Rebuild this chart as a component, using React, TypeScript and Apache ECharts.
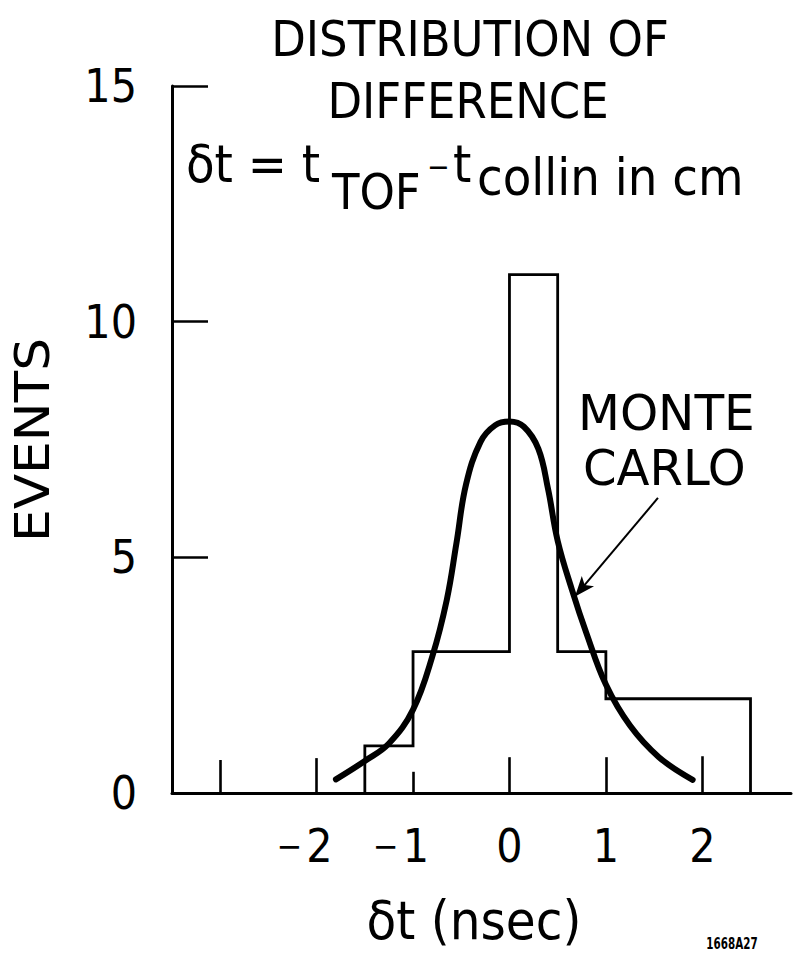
import React, { useEffect, useRef } from 'react';
import * as echarts from 'echarts';

// ---- data ----
const BIN_EDGES = [-1.5, -1, 0, 0.5, 1, 2.5];
const BIN_COUNTS = [1, 3, 11, 3, 2];

const MC_X = [-1.8, -1.5, -1.25, -1.0, -0.8, -0.65, -0.55, -0.45, -0.3, -0.15, 0, 0.15, 0.3, 0.4, 0.5, 0.65, 0.8, 1.0, 1.25, 1.55, 1.9];
const MC_Y = [0.29, 0.68, 1.05, 1.77, 2.9, 4.1, 5.3, 6.55, 7.45, 7.8, 7.88, 7.77, 7.3, 6.45, 5.35, 4.3, 3.38, 2.3, 1.43, 0.76, 0.28];

const X_TICKS = [-3, -2, -1, 0, 1, 2];
const X_LABELS = [-2, -1, 0, 1, 2];
const Y_TICK_LABELS = ['0', '5', '10', '15'];

const ARROW_FROM = [1.54, 6.26];
const ARROW_TO = [0.68, 4.17];

// ---- styling ----
const FONT = "'DejaVu Sans Condensed', 'Liberation Sans Narrow', 'DejaVu Sans', sans-serif";
const TICK_LEN: Record<string, number> = { '-3': 0.7, '-2': 0.74, '-1': 0.45, '0': 0.76, '1': 0.76, '2': 0.78 };

function buildOption() {
  const hist: number[][] = [[BIN_EDGES[0], 0]];
  BIN_COUNTS.forEach((c, i) => {
    hist.push([BIN_EDGES[i], c]);
    hist.push([BIN_EDGES[i + 1], c]);
  });
  hist.push([BIN_EDGES[BIN_EDGES.length - 1], 0]);

  const curve = MC_X.map((x, i) => [x, MC_Y[i]]);

  const text = (t: string, x: number, y: number, size: number, align: string = 'left', el: any = {}, st: any = {}) => ({
    type: 'text',
    x,
    y,
    silent: true,
    ...el,
    style: {
      text: t,
      fontSize: size,
      fontFamily: FONT,
      fill: '#000',
      align,
      verticalAlign: 'middle',
      ...st,
    },
  });

  return {
    animation: false,
    backgroundColor: '#fff',
    grid: { left: 172, right: 0, top: 86, bottom: 163, containLabel: false },
    xAxis: {
      type: 'value',
      min: -3.5,
      max: 2.92,
      interval: 0.5,
      splitLine: { show: false },
      axisTick: { show: false },
      axisLine: { onZero: false, lineStyle: { color: '#000', width: 3 } },
      axisLabel: {
        margin: 30,
        fontSize: 46,
        fontFamily: FONT,
        color: '#000',
        formatter: (v: number) => {
          const r = Math.round(v * 10) / 10;
          if (!X_LABELS.includes(r)) return '';
          return r < 0 ? `{m|−}${Math.abs(r)}{pad|}` : `${r}`;
        },
        rich: {
          m: { fontSize: 34, fontFamily: FONT, padding: [0, 4, 0, 0] },
          pad: { width: 24, fontSize: 46 },
        },
      },
    },
    yAxis: {
      type: 'value',
      min: 0,
      max: 15,
      interval: 5,
      splitLine: { show: false },
      axisLine: { onZero: false, lineStyle: { color: '#000', width: 3 } },
      axisTick: { inside: true, length: 36, lineStyle: { color: '#000', width: 2.5 } },
      axisLabel: {
        margin: 35,
        fontSize: 46,
        fontFamily: FONT,
        color: '#000',
        formatter: (v: number) => Y_TICK_LABELS[Math.round(v / 5)] ?? '',
      },
    },
    series: [
      {
        type: 'line',
        name: 'Events',
        data: hist,
        symbol: 'none',
        silent: true,
        lineStyle: { color: '#000', width: 2.8, join: 'miter' },
        markLine: {
          silent: true,
          symbol: ['none', 'none'],
          label: { show: false },
          lineStyle: { color: '#000', width: 2.6, type: 'solid' },
          data: X_TICKS.map((v) => [{ coord: [v, 0] }, { coord: [v, TICK_LEN[String(v)]] }]),
        },
      },
      {
        type: 'line',
        name: 'Monte Carlo',
        data: curve,
        smooth: 0.4,
        symbol: 'none',
        silent: true,
        lineStyle: { color: '#000', width: 6, cap: 'round' },
        markLine: {
          silent: true,
          symbol: ['none', 'arrow'],
          symbolSize: [12, 20],
          label: { show: false },
          lineStyle: { color: '#000', width: 2, type: 'solid' },
          data: [[{ coord: ARROW_FROM }, { coord: ARROW_TO }]],
        },
      },
    ],
    graphic: [
      text('DISTRIBUTION OF', 470, 39, 50, 'center'),
      text('DIFFERENCE', 468, 101, 50, 'center'),
      text('δt = t', 186, 164, 52),
      text('TOF', 332, 192, 50),
      text('−', 427, 166, 30),
      text('t', 453, 164, 52),
      text('collin in cm', 477, 177, 52),
      text('MONTE', 578, 413, 50, 'left', { scaleX: 1.08 }),
      text('CARLO', 583, 468, 50, 'left', { scaleX: 1.07 }),
      text('EVENTS', 33, 440, 48, 'center', { rotation: Math.PI / 2, scaleX: 1.2 }),
      text('δt (nsec)', 474, 920, 54, 'center'),
      text('1668A27', 732, 943, 16, 'center', { scaleX: 0.72 }, { fontWeight: 'bold' }),
    ],
  };
}

export default function App() {
  const ref = useRef<HTMLDivElement>(null);
  useEffect(() => {
    const chart = echarts.init(ref.current!, null, { renderer: 'svg' });
    chart.setOption(buildOption() as any);
    return () => chart.dispose();
  }, []);
  return (
    <div
      ref={ref}
      style={{ position: 'absolute', left: 0, top: 0, width: 794, height: 956, background: '#fff' }}
    />
  );
}
